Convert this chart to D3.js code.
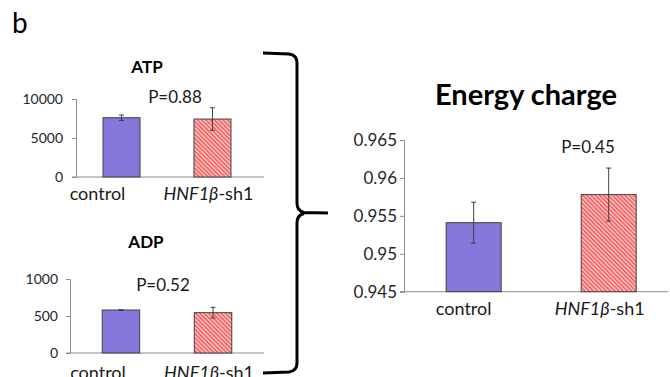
<!DOCTYPE html>
<html>
<head>
<meta charset="utf-8">
<script src="https://cdn.jsdelivr.net/npm/d3@7"></script>
<style>
  body { margin: 0; background: #fff; }
  svg { font-family: Lato, "Open Sans", sans-serif; }
  .axis path, .axis line { stroke: #8c8c8c; }
</style>
</head>
<body>
<div id="chart"></div>
<script>
// data
var groups = ["control", "HNF1β-sh1"];
var atpValues = [7600, 7430];
var atpErrors = [350, 1450];
var adpValues = [581, 545];
var adpErrors = [5, 72];
var ecValues = [0.9541, 0.9578];
var ecErrors = [0.0027, 0.0035];
var atpTicks = [0, 5000, 10000];
var adpTicks = [0, 500, 1000];
var ecTicks = [0.945, 0.95, 0.955, 0.96, 0.965];

var W = 670, H = 377;
var svg = d3.select("#chart").append("svg")
  .attr("width", W).attr("height", H);

// hatch for the knockdown bars
var defs = svg.append("defs");
var pat = defs.append("pattern")
  .attr("id", "hatch")
  .attr("patternUnits", "userSpaceOnUse")
  .attr("width", 3).attr("height", 3)
  .attr("patternTransform", "rotate(-45)");
pat.append("rect").attr("width", 3).attr("height", 3).attr("fill", "#fdd4d4");
pat.append("rect").attr("width", 1.7).attr("height", 3).attr("fill", "#f45c5c");

var fills = ["#8478dc", "url(#hatch)"];

svg.append("text").attr("x", 12).attr("y", 33)
  .attr("font-size", 28).text("b");

////////////////////
// one bar panel
function panel(o) {
  var x = d3.scaleBand().domain(groups)
    .range([o.x0, o.x1])
    .paddingInner(0.593).paddingOuter(o.po).align(o.align);
  var y = d3.scaleLinear().domain(o.domain).range([o.y0, o.y1]);
  var g = svg.append("g");

  var ya = g.append("g").attr("class", "axis")
    .attr("transform", "translate(" + o.x0 + ",0)")
    .call(d3.axisLeft(y).tickValues(o.ticks).tickSize(4)
      .tickPadding(o.pad).tickFormat(o.fmt || d3.format("")));
  ya.selectAll("text").attr("font-size", o.tickFont)
    .attr("fill", "#262626").style("font-family", "Lato, sans-serif");

  // baseline
  g.append("line")
    .attr("x1", o.x0 - 4).attr("x2", o.x1)
    .attr("y1", y(o.domain[0])).attr("y2", y(o.domain[0]))
    .attr("stroke", "#8c8c8c");

  g.selectAll(".bar").data(o.values).enter().append("rect")
    .attr("x", function(d, i) { return x(groups[i]); })
    .attr("width", x.bandwidth())
    .attr("y", function(d) { return y(d); })
    .attr("height", function(d) { return y(o.domain[0]) - y(d); })
    .attr("fill", function(d, i) { return fills[i]; })
    .attr("stroke", "#404040").attr("stroke-width", 1);

  // error bars
  o.values.forEach(function(v, i) {
    var cx = x(groups[i]) + x.bandwidth() / 2;
    var e = o.errors[i];
    g.append("line").attr("x1", cx).attr("x2", cx)
      .attr("y1", y(v - e)).attr("y2", y(v + e))
      .attr("stroke", "#404040");
    [v - e, v + e].forEach(function(t) {
      g.append("line").attr("x1", cx - 2.5).attr("x2", cx + 2.5)
        .attr("y1", y(t)).attr("y2", y(t)).attr("stroke", "#404040");
    });
  });

  // category labels
  groups.forEach(function(c, i) {
    var t = g.append("text")
      .attr("x", x(c) + x.bandwidth() / 2 + o.labelShift[i])
      .attr("y", o.labelY).attr("text-anchor", "middle")
      .attr("font-size", 18).attr("fill", "#1a1a1a");
    if (i === 0) t.text(c);
    else {
      t.append("tspan").attr("font-style", "italic").text("HNF1β");
      t.append("tspan").text("-sh1");
    }
  });

  g.append("text").attr("x", o.titleX).attr("y", o.titleY)
    .attr("text-anchor", "middle").attr("font-weight", "bold")
    .attr("font-size", o.titleFont).text(o.title);

  g.append("text").attr("x", o.pX).attr("y", o.pY)
    .attr("text-anchor", "middle").attr("font-size", 17)
    .attr("fill", "#1a1a1a").text(o.p);
}

panel({
  x0: 76, x1: 264, po: 0.33, align: 0.45,
  y0: 177, y1: 99, domain: [0, 10000], ticks: atpTicks, pad: 9, tickFont: 14,
  values: atpValues, errors: atpErrors,
  labelY: 200, labelShift: [-24, -4],
  title: "ATP", titleX: 147, titleY: 73, titleFont: 17,
  p: "P=0.88", pX: 175, pY: 103
});

panel({
  x0: 70, x1: 264, po: 0.35, align: 0.5,
  y0: 353, y1: 279, domain: [0, 1000], ticks: adpTicks, pad: 8, tickFont: 14,
  values: adpValues, errors: adpErrors,
  labelY: 379, labelShift: [-23, -4],
  title: "ADP", titleX: 146, titleY: 248, titleFont: 17,
  p: "P=0.52", pX: 163, pY: 291
});

panel({
  x0: 404, x1: 668, po: 0.274, align: 0.57,
  y0: 291.7, y1: 140, domain: [0.945, 0.965], ticks: ecTicks, pad: 3, tickFont: 17,
  fmt: function(d) { return d3.format("")(+d.toFixed(3)); },
  values: ecValues, errors: ecErrors,
  labelY: 315, labelShift: [-10, -9],
  title: "Energy charge", titleX: 526, titleY: 105, titleFont: 29,
  p: "P=0.45", pX: 588, pY: 153
});

// curly brace
svg.append("path")
  .attr("d", "M263,53 L289,54 Q297,55 297,63 L297,203 Q297,211 304,212.5 L328,213" +
    " M304,213.5 Q297,215 297,223 L297,363 Q297,371 289,372 L263,373")
  .attr("fill", "none").attr("stroke", "#000").attr("stroke-width", 3);
</script>
</body>
</html>
